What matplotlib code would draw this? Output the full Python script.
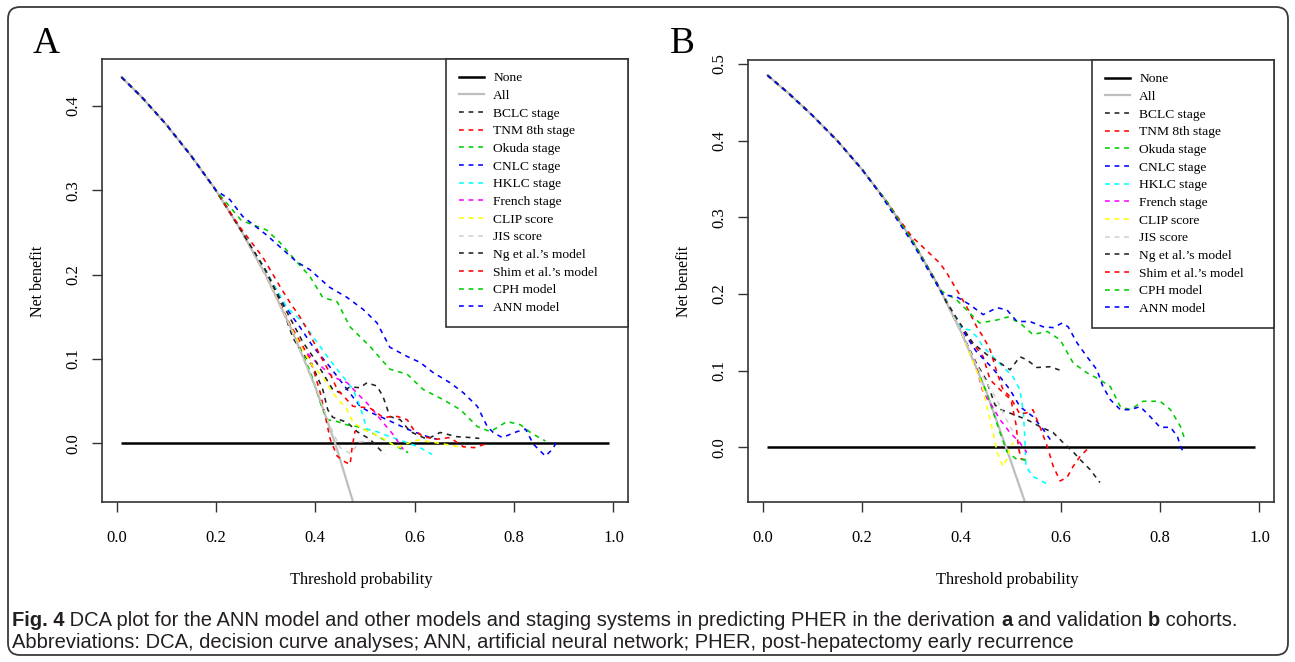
import matplotlib
matplotlib.use("Agg")
import matplotlib.pyplot as plt
from matplotlib.patches import FancyBboxPatch
from matplotlib.lines import Line2D

# ------------------------------------------------------------------ data
LABELS = ["None", "All", "BCLC stage", "TNM 8th stage", "Okuda stage", "CNLC stage",
          "HKLC stage", "French stage", "CLIP score", "JIS score", "Ng et al.\u2019s model",
          "Shim et al.\u2019s model", "CPH model", "ANN model"]
COLORS = ["#000000", "#BEBEBE", "#222222", "#FF0000", "#00CD00", "#0000FF", "#00FFFF",
          "#FF00FF", "#FFFF00", "#D0D0D0", "#222222", "#FF0000", "#00CD00", "#0000FF"]

NONE_X = [0.01, 0.99]
NONE_Y = [0.0, 0.0]

# ---- panel A (derivation cohort)
A_HEAD_X = [0.01, 0.05, 0.10, 0.15, 0.20]
A_HEAD_Y = [0.434, 0.411, 0.378, 0.341, 0.300]
A_ALL_X = A_HEAD_X + [0.25, 0.30, 0.35, 0.40, 0.44, 0.48]
A_ALL_Y = A_HEAD_Y + [0.253, 0.200, 0.138, 0.067, 0.000, -0.077]
A_BCLC_X = A_HEAD_X + [0.25, 0.30, 0.33, 0.355, 0.37, 0.395, 0.415, 0.425, 0.435, 0.464, 0.484, 0.51, 0.536, 0.54]
A_BCLC_Y = A_HEAD_Y + [0.253, 0.205, 0.167, 0.125, 0.111, 0.091, 0.064, 0.040, 0.031, 0.025, 0.014, 0.005, -0.011, -0.013]
A_TNM_X = A_HEAD_X + [0.25, 0.30, 0.35, 0.39, 0.41, 0.43, 0.444, 0.46, 0.47, 0.474, 0.48]
A_TNM_Y = A_HEAD_Y + [0.253, 0.200, 0.140, 0.100, 0.060, 0.005, -0.015, -0.022, -0.025, -0.005, 0.015]
A_OKUDA_X = A_HEAD_X + [0.25, 0.30, 0.35, 0.39, 0.415, 0.425, 0.444, 0.464, 0.484, 0.51, 0.536, 0.565, 0.587]
A_OKUDA_Y = A_HEAD_Y + [0.253, 0.200, 0.138, 0.085, 0.040, 0.028, 0.026, 0.022, 0.020, 0.014, 0.005, -0.004, -0.011]
A_CNLC_X = A_HEAD_X + [0.25, 0.30, 0.343, 0.369, 0.395, 0.429, 0.464, 0.49, 0.51, 0.53, 0.556, 0.585, 0.611, 0.637, 0.645]
A_CNLC_Y = A_HEAD_Y + [0.253, 0.205, 0.159, 0.138, 0.115, 0.091, 0.064, 0.044, 0.037, 0.032, 0.025, 0.017, 0.011, 0.006, 0.005]
A_HKLC_X = A_HEAD_X + [0.25, 0.30, 0.343, 0.369, 0.395, 0.429, 0.456, 0.476, 0.49, 0.504, 0.524, 0.55, 0.585, 0.611, 0.635]
A_HKLC_Y = A_HEAD_Y + [0.253, 0.205, 0.161, 0.147, 0.127, 0.099, 0.079, 0.064, 0.044, 0.017, 0.014, 0.008, 0.001, -0.005, -0.013]
A_FRENCH_X = A_HEAD_X + [0.25, 0.30, 0.34, 0.369, 0.403, 0.435, 0.464, 0.49, 0.51, 0.536, 0.556, 0.577]
A_FRENCH_Y = A_HEAD_Y + [0.253, 0.200, 0.150, 0.115, 0.096, 0.079, 0.072, 0.056, 0.044, 0.025, 0.011, -0.007]
A_CLIP_X = A_HEAD_X + [0.25, 0.30, 0.35, 0.39, 0.415, 0.435, 0.464, 0.476, 0.496, 0.53, 0.55, 0.565, 0.585, 0.605, 0.631, 0.671, 0.698]
A_CLIP_Y = A_HEAD_Y + [0.253, 0.200, 0.138, 0.095, 0.079, 0.060, 0.040, 0.025, 0.017, 0.008, 0.001, -0.005, 0.000, 0.004, 0.002, -0.002, -0.005]
A_JIS_X = A_HEAD_X + [0.25, 0.30, 0.35, 0.40, 0.43, 0.45, 0.47, 0.49, 0.51]
A_JIS_Y = A_HEAD_Y + [0.253, 0.200, 0.138, 0.067, 0.020, -0.005, -0.012, 0.002, 0.003]
A_NG_X = A_HEAD_X + [0.25, 0.30, 0.33, 0.375, 0.395, 0.435, 0.45, 0.47, 0.49, 0.504, 0.524, 0.536, 0.55, 0.571, 0.591, 0.625, 0.651, 0.685, 0.712, 0.73]
A_NG_Y = A_HEAD_Y + [0.253, 0.205, 0.170, 0.120, 0.103, 0.064, 0.060, 0.067, 0.066, 0.072, 0.068, 0.056, 0.032, 0.028, 0.014, 0.005, 0.013, 0.008, 0.007, 0.006]
A_SHIM_X = A_HEAD_X + [0.25, 0.294, 0.329, 0.349, 0.369, 0.389, 0.409, 0.429, 0.444, 0.476, 0.51, 0.536, 0.565, 0.585, 0.597, 0.617, 0.645, 0.671, 0.698, 0.72, 0.746]
A_SHIM_Y = A_HEAD_Y + [0.255, 0.221, 0.186, 0.167, 0.150, 0.130, 0.105, 0.084, 0.064, 0.044, 0.042, 0.031, 0.032, 0.028, 0.017, 0.008, 0.005, 0.007, -0.004, -0.005, 0.000]
A_CPH_X = A_HEAD_X + [0.25, 0.274, 0.302, 0.329, 0.363, 0.389, 0.415, 0.444, 0.47, 0.51, 0.55, 0.585, 0.617, 0.657, 0.692, 0.726, 0.752, 0.786, 0.813, 0.833, 0.853, 0.863]
A_CPH_Y = A_HEAD_Y + [0.265, 0.259, 0.253, 0.238, 0.215, 0.198, 0.173, 0.168, 0.138, 0.115, 0.088, 0.082, 0.064, 0.052, 0.040, 0.020, 0.014, 0.026, 0.022, 0.013, 0.006, 0.003]
A_ANN_X = A_HEAD_X + [0.228, 0.254, 0.302, 0.363, 0.389, 0.429, 0.464, 0.496, 0.524, 0.55, 0.585, 0.611, 0.637, 0.671, 0.698, 0.726, 0.746, 0.758, 0.776, 0.806, 0.823, 0.839, 0.863, 0.877, 0.889]
A_ANN_Y = A_HEAD_Y + [0.289, 0.269, 0.247, 0.215, 0.206, 0.185, 0.173, 0.159, 0.143, 0.114, 0.103, 0.096, 0.084, 0.072, 0.060, 0.044, 0.020, 0.013, 0.007, 0.014, 0.017, -0.001, -0.015, -0.007, 0.005]

# ---- panel B (validation cohort)
B_HEAD_X = [0.01, 0.05, 0.10, 0.15, 0.20, 0.25, 0.30, 0.35]
B_HEAD_Y = [0.485, 0.463, 0.433, 0.400, 0.3625, 0.320, 0.271, 0.215]
B_ALL_X = B_HEAD_X + [0.40, 0.45, 0.49, 0.53]
B_ALL_Y = B_HEAD_Y + [0.150, 0.073, 0.000, -0.075]
B_BCLC_X = B_HEAD_X + [0.40, 0.43, 0.45, 0.468, 0.48, 0.504, 0.532, 0.558, 0.585, 0.605, 0.625, 0.639, 0.659, 0.679]
B_BCLC_Y = B_HEAD_Y + [0.150, 0.110, 0.088, 0.055, 0.049, 0.043, 0.036, 0.027, 0.019, 0.006, -0.006, -0.016, -0.029, -0.046]
B_TNM_X = B_HEAD_X + [0.40, 0.444, 0.458, 0.478, 0.50, 0.51, 0.515, 0.52, 0.535]
B_TNM_Y = B_HEAD_Y + [0.155, 0.118, 0.088, 0.075, 0.062, 0.030, 0.000, -0.015, -0.018]
B_OKUDA_X = B_HEAD_X + [0.40, 0.45, 0.478, 0.492, 0.512, 0.532]
B_OKUDA_Y = B_HEAD_Y + [0.150, 0.073, 0.019, -0.006, -0.016, -0.016]
B_CNLC_X = B_HEAD_X + [0.40, 0.43, 0.46, 0.48, 0.498, 0.518, 0.544, 0.565, 0.579]
B_CNLC_Y = B_HEAD_Y + [0.155, 0.125, 0.105, 0.090, 0.075, 0.053, 0.040, 0.023, 0.010]
B_HKLC_X = B_HEAD_X + [0.40, 0.417, 0.431, 0.444, 0.464, 0.484, 0.504, 0.518, 0.525, 0.528, 0.530, 0.544, 0.573]
B_HKLC_Y = B_HEAD_Y + [0.155, 0.153, 0.144, 0.131, 0.118, 0.105, 0.092, 0.075, 0.045, 0.010, -0.025, -0.038, -0.048]
B_FRENCH_X = B_HEAD_X + [0.40, 0.43, 0.444, 0.458, 0.478, 0.498, 0.518, 0.532]
B_FRENCH_Y = B_HEAD_Y + [0.150, 0.105, 0.071, 0.058, 0.036, 0.019, 0.006, -0.007]
B_CLIP_X = B_HEAD_X + [0.40, 0.44, 0.464, 0.472, 0.484, 0.492, 0.498, 0.505]
B_CLIP_Y = B_HEAD_Y + [0.150, 0.085, 0.019, -0.006, -0.025, -0.015, 0.001, 0.006]
B_JIS_X = B_HEAD_X + [0.40, 0.43, 0.451, 0.472, 0.484, 0.498, 0.505]
B_JIS_Y = B_HEAD_Y + [0.150, 0.108, 0.084, 0.062, 0.045, 0.027, 0.020]
B_NG_X = B_HEAD_X + [0.371, 0.397, 0.423, 0.451, 0.478, 0.498, 0.518, 0.532, 0.552, 0.579, 0.605]
B_NG_Y = B_HEAD_Y + [0.188, 0.162, 0.136, 0.121, 0.110, 0.101, 0.118, 0.114, 0.104, 0.105, 0.099]
B_SHIM_X = B_HEAD_X[:6] + [0.30, 0.357, 0.371, 0.391, 0.411, 0.431, 0.444, 0.458, 0.472, 0.484, 0.498, 0.518, 0.532, 0.544, 0.558, 0.573, 0.585, 0.599, 0.613, 0.625, 0.639, 0.659]
B_SHIM_Y = B_HEAD_Y[:6] + [0.275, 0.240, 0.227, 0.205, 0.183, 0.157, 0.144, 0.127, 0.097, 0.075, 0.066, 0.043, 0.045, 0.049, 0.027, 0.001, -0.025, -0.044, -0.039, -0.025, -0.012, 0.001]
B_CPH_X = B_HEAD_X[:7] + [0.357, 0.391, 0.437, 0.472, 0.494, 0.518, 0.544, 0.573, 0.599, 0.625, 0.653, 0.679, 0.70, 0.72, 0.74, 0.766, 0.80, 0.821, 0.841, 0.851]
B_CPH_Y = B_HEAD_Y[:7] + [0.205, 0.192, 0.162, 0.166, 0.170, 0.162, 0.147, 0.151, 0.140, 0.110, 0.097, 0.088, 0.079, 0.053, 0.049, 0.060, 0.060, 0.049, 0.027, 0.008]
B_ANN_X = B_HEAD_X[:5] + [0.236, 0.302, 0.337, 0.363, 0.391, 0.417, 0.444, 0.472, 0.492, 0.512, 0.538, 0.565, 0.585, 0.603, 0.615, 0.633, 0.653, 0.673, 0.685, 0.70, 0.72, 0.74, 0.76, 0.78, 0.80, 0.821, 0.835, 0.841, 0.849]
B_ANN_Y = B_HEAD_Y[:5] + [0.331, 0.266, 0.227, 0.199, 0.196, 0.186, 0.173, 0.182, 0.179, 0.164, 0.164, 0.157, 0.156, 0.162, 0.157, 0.136, 0.118, 0.101, 0.079, 0.062, 0.049, 0.049, 0.053, 0.040, 0.026, 0.026, 0.014, 0.001, -0.009]

A_SERIES = [(A_ALL_X, A_ALL_Y), (A_BCLC_X, A_BCLC_Y), (A_TNM_X, A_TNM_Y), (A_OKUDA_X, A_OKUDA_Y),
            (A_CNLC_X, A_CNLC_Y), (A_HKLC_X, A_HKLC_Y), (A_FRENCH_X, A_FRENCH_Y), (A_CLIP_X, A_CLIP_Y),
            (A_JIS_X, A_JIS_Y), (A_NG_X, A_NG_Y), (A_SHIM_X, A_SHIM_Y), (A_CPH_X, A_CPH_Y), (A_ANN_X, A_ANN_Y)]
B_SERIES = [(B_ALL_X, B_ALL_Y), (B_BCLC_X, B_BCLC_Y), (B_TNM_X, B_TNM_Y), (B_OKUDA_X, B_OKUDA_Y),
            (B_CNLC_X, B_CNLC_Y), (B_HKLC_X, B_HKLC_Y), (B_FRENCH_X, B_FRENCH_Y), (B_CLIP_X, B_CLIP_Y),
            (B_JIS_X, B_JIS_Y), (B_NG_X, B_NG_Y), (B_SHIM_X, B_SHIM_Y), (B_CPH_X, B_CPH_Y), (B_ANN_X, B_ANN_Y)]

X_TICKS = [0.0, 0.2, 0.4, 0.6, 0.8, 1.0]
A_YTICKS = [0.0, 0.1, 0.2, 0.3, 0.4]
B_YTICKS = [0.0, 0.1, 0.2, 0.3, 0.4, 0.5]

CAPTION_1 = [("Fig. 4", "bold"),
             (" DCA plot for the ANN model and other models and staging systems in predicting PHER in the derivation ", "normal"),
             ("a", "bold"), (" and validation ", "normal"), ("b", "bold"), (" cohorts.", "normal")]
CAPTION_2 = [("Abbreviations: DCA, decision curve analyses; ANN, artificial neural network; PHER, post-hepatectomy early recurrence", "normal")]

# ------------------------------------------------------------------ figure
W, H = 1295, 662
fig = plt.figure(figsize=(W / 100, H / 100), dpi=100)
SERIF = ["Liberation Serif", "DejaVu Serif"]
SANS = ["Liberation Sans Narrow", "Liberation Sans", "DejaVu Sans"]
BOX = "#333333"
DASH = (0, (3, 3))


def px_rect(l, t, r, b):
    return [l / W, 1 - b / H, (r - l) / W, (b - t) / H]


def panel(rect, series, ylim, yticks, letter, letter_x, ylab_x, xlab_x):
    ax = fig.add_axes(px_rect(*rect))
    ax.plot(NONE_X, NONE_Y, color=COLORS[0], lw=1.8, solid_capstyle="butt")
    for i, (xs, ys) in enumerate(series):
        if i == 0:
            ax.plot(xs, ys, color=COLORS[1], lw=1.6)
        else:
            ax.plot(xs, ys, color=COLORS[i + 1], lw=1.15, linestyle=DASH)
    ax.set_xlim(-0.0292, 1.0292)
    ax.set_ylim(*ylim)
    ax.set_xticks(X_TICKS)
    ax.set_xticklabels(["%.1f" % v for v in X_TICKS], fontfamily=SERIF, fontsize=12)
    ax.set_yticks(yticks)
    ax.set_yticklabels(["%.1f" % v for v in yticks], fontfamily=SERIF, fontsize=12,
                       rotation=90, va="center")
    ax.tick_params(axis="x", direction="out", length=7.5, width=1.0, color=BOX, pad=12.5)
    ax.tick_params(axis="y", direction="out", length=7.5, width=1.0, color=BOX, pad=7.5)
    for s in ax.spines.values():
        s.set_color(BOX)
        s.set_linewidth(1.2)
    handles = [Line2D([], [], color=COLORS[0], lw=1.8), Line2D([], [], color=COLORS[1], lw=1.6)]
    handles += [Line2D([], [], color=c, lw=1.15, linestyle=DASH) for c in COLORS[2:]]
    l, t, r, b = rect
    x0f = 344 / (r - l)
    leg = ax.legend(handles, LABELS, loc="upper right", bbox_to_anchor=(x0f, 0, 1 - x0f, 1),
                    mode="expand", borderaxespad=0, fancybox=False, framealpha=1,
                    edgecolor=BOX, prop={"family": SERIF, "size": 9.7}, handlelength=1.9,
                    handletextpad=0.65, labelspacing=0.39, borderpad=0.95)
    leg.get_frame().set_linewidth(1.2)
    fig.text(letter_x / W, 1 - 53 / H, letter, fontfamily=SERIF, fontsize=27, va="baseline", ha="left")
    fig.text(ylab_x / W, 1 - 281 / H, "Net benefit", fontfamily=SERIF, fontsize=11.5,
             rotation=90, ha="center", va="center")
    fig.text(xlab_x / W, 1 - 580 / H, "Threshold probability", fontfamily=SERIF, fontsize=11.8,
             ha="center", va="center")
    return ax


panel((102, 59, 628, 502), A_SERIES, (-0.0694, 0.4556), A_YTICKS, "A", 33, 38, 361)
panel((748, 60, 1274, 502), B_SERIES, (-0.0714, 0.505), B_YTICKS, "B", 670, 684, 1007)

# outer rounded frame
frame = FancyBboxPatch((8, 7), 1280, 648, boxstyle="round,pad=0,rounding_size=12",
                       transform=None, facecolor="none", edgecolor="#3a3a3a", lw=1.3)
fig.patches.append(frame)

# caption
renderer = fig.canvas.get_renderer()
CAP_COLOR = "#231F20"


def caption_line(parts, x_px, y_px, size):
    x = x_px
    made = []
    for txt, weight in parts:
        t = fig.text(x / W, 1 - y_px / H, txt, fontfamily=SANS, fontsize=size,
                     fontweight=weight, color=CAP_COLOR, va="center", ha="left")
        made.append(t)
        x += t.get_window_extent(renderer).width
    return x, made


# fit the first caption line to its width in the reference (about 1227 px)
probe, tmp = caption_line(CAPTION_1, 0, -100, 12)
for t in tmp:
    t.remove()
size = 12 * 1227 / probe
caption_line(CAPTION_1, 12, 620, size)
caption_line(CAPTION_2, 12, 643, size)

fig.savefig("out.png", dpi=100, facecolor="white")
